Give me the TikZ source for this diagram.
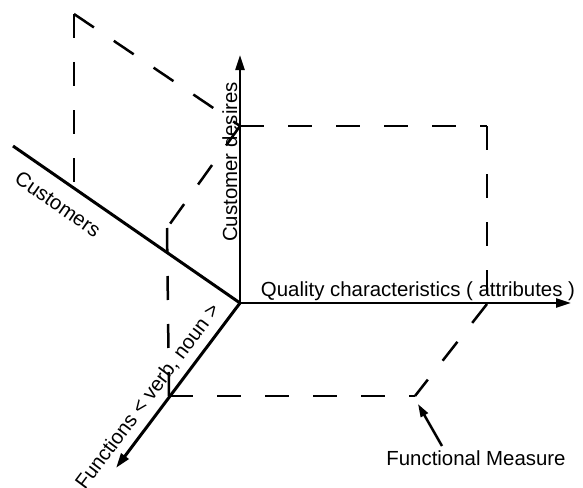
\documentclass[tikz,border=0pt]{standalone}
\usepackage{fontspec}
\setmainfont{Liberation Sans}
\usetikzlibrary{arrows.meta}
\begin{document}
\begin{tikzpicture}[x=1pt, y=-1pt,
        axis/.style={line width=2.2pt, -{Triangle[length=15pt,width=9pt]}},
        heavy/.style={line width=3pt},
        guide/.style={line width=2.5pt, dash pattern=on 24pt off 24pt},
        lab/.style={font=\fontsize{20.4}{24}\selectfont, inner sep=0pt}]
    \useasboundingbox (0,0) rectangle (583,487);
    % axes ends
    \coordinate (O) at (240,303);
    \coordinate (desTop) at (240,55);
    \coordinate (qualEnd) at (571,303);
    \coordinate (custEnd) at (13,146);
    \coordinate (funcEnd) at (116,468);
    % corners of the measure planes
    \coordinate (A) at (240,126);
    \coordinate (B) at (487,126);
    \coordinate (C) at (487,304);
    \coordinate (D) at (415,396);
    \coordinate (E) at (169,396);
    \coordinate (F) at (167,228);
    \coordinate (G) at (74,14);
    \coordinate (H) at (74,187);
    % dashed planes
    \draw[guide] (A) -- (B);
    \draw[guide] (B) -- (C);
    \draw[guide] (C) -- (D);
    \draw[guide] (E) -- (D);
    \draw[guide] (F) -- (E);
    \draw[guide] (A) -- (F);
    \draw[guide] (G) -- (H);
    \draw[guide] (G) -- (A);
    % axes
    \draw[heavy] (custEnd) -- (O);
    \draw[axis] (O) -- (desTop);
    \draw[axis] (O) -- (qualEnd);
    \draw[axis, heavy] (O) -- (funcEnd);
    % labels
    \node[lab, anchor=base] (qualLab) at (418,296) {Quality characteristics ( attributes )};
    \node[lab, rotate=90, anchor=base] (desLab) at (237,162) {Customer desires};
    \node[lab, rotate=-34.7] (custLab) at (58,204) {Customers};
    \node[lab, rotate=53.1] (funcLab) at (148,397) {Functions < verb, noun >};
    \node[lab, anchor=base] (fmLab) at (476,465) {Functional Measure};
    \coordinate (fmTail) at (442,446);
    \coordinate (fmTip) at (418,404);
    \draw[line width=2.5pt, -{Triangle[length=13pt,width=8pt]}] (fmTail) -- (fmTip);
\end{tikzpicture}
\end{document}
